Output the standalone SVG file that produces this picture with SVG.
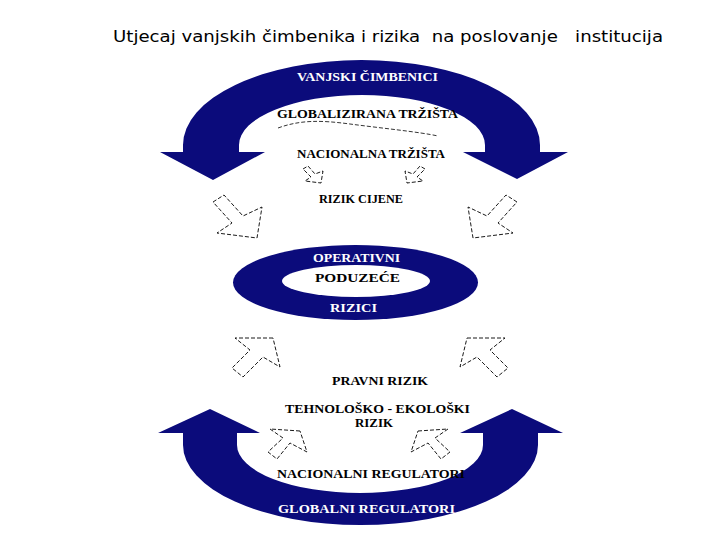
<svg xmlns="http://www.w3.org/2000/svg" width="720" height="540" viewBox="0 0 720 540">
<style>
.band{fill:#0b0b7b;}
.lbl{font-family:"Liberation Serif","Times New Roman",serif;font-weight:bold;font-size:13px;text-anchor:middle;}
.w{fill:#ffffff;}
.k{fill:#000000;}
.hollow{fill:#ffffff;stroke:#000000;stroke-width:0.9;stroke-dasharray:4 2;}
.title{font-family:"DejaVu Sans","Verdana",sans-serif;font-size:16px;fill:#000000;}
</style>
<rect width="720" height="540" fill="#ffffff"/>
<text class="title" x="113" y="42" xml:space="preserve" textLength="550" lengthAdjust="spacingAndGlyphs">Utjecaj vanjskih čimbenika i rizika  na poslovanje   institucija</text>

<g id="top-arc">
<path class="band" d="M183 152 L183 145 A178.5 85 0 0 1 540 145 L540 152 L568 152 L517 179 L463 152 L485 152 L485 145 A123 50 0 0 0 239 145 L239 152 L265 152 L213 180 L160 152 Z"/>
<text class="lbl w" x="367.5" y="81" textLength="141" lengthAdjust="spacingAndGlyphs">VANJSKI ČIMBENICI</text>
</g>
<g id="globalizirana">
<text class="lbl k" x="367.5" y="118" textLength="181" lengthAdjust="spacingAndGlyphs">GLOBALIZIRANA TRŽIŠTA</text>
<path d="M278 128 C300 120 320 120 350 124 S420 132 438 136" fill="none" stroke="#000" stroke-width="0.8" stroke-dasharray="4 2"/>
</g>
<g id="nacionalna">
<text class="lbl k" x="371" y="158" textLength="148" lengthAdjust="spacingAndGlyphs">NACIONALNA TRŽIŠTA</text>
</g>
<g id="rizik-cijene">
<text class="lbl k" x="361" y="203" textLength="84" lengthAdjust="spacingAndGlyphs">RIZIK CIJENE</text>
</g>

<g id="center-ring">
<ellipse class="band" cx="355.5" cy="282.5" rx="122.5" ry="37.5"/>
<ellipse cx="356" cy="281" rx="74" ry="16" fill="#ffffff"/>
<text class="lbl w" x="356.5" y="262" textLength="87" lengthAdjust="spacingAndGlyphs">OPERATIVNI</text>
<text class="lbl k" x="357.5" y="282" font-size="14" textLength="85" lengthAdjust="spacingAndGlyphs">PODUZEĆE</text>
<text class="lbl w" x="353.5" y="312" textLength="47" lengthAdjust="spacingAndGlyphs">RIZICI</text>
</g>

<g id="pravni-rizik">
<text class="lbl k" x="380" y="385" textLength="96" lengthAdjust="spacingAndGlyphs">PRAVNI RIZIK</text>
</g>
<g id="tehnolosko">
<text class="lbl k" x="377.5" y="413" textLength="185" lengthAdjust="spacingAndGlyphs">TEHNOLOŠKO - EKOLOŠKI</text>
<text class="lbl k" x="374" y="427" textLength="38" lengthAdjust="spacingAndGlyphs">RIZIK</text>
</g>

<g id="bottom-arc">
<path class="band" d="M183 433 L183 445 A177.5 80 0 0 0 538 445 L538 433 L563 433 L512 409 L460 433 L483 433 L483 445 A123 48 0 0 1 237 445 L237 433 L260 433 L210 409 L158 433 Z"/>
<text class="lbl w" x="366.5" y="513" textLength="177" lengthAdjust="spacingAndGlyphs">GLOBALNI REGULATORI</text>
</g>
<g id="nacionalni-regulatori">
<text class="lbl k" x="371" y="478" textLength="188" lengthAdjust="spacingAndGlyphs">NACIONALNI REGULATORI</text>
</g>

<g id="connectors">
<polygon class="hollow" points="303,169 308,166 315,174 323,171 321,183 305,181 311,177"/>
<polygon class="hollow" points="425,169 420,166 413,174 405,171 407,183 423,181 417,177"/>
<polygon class="hollow" points="213,202 224,195 243,216 262,207 257,238 217,233 232,223"/>
<polygon class="hollow" points="517,202 506,195 487,216 468,207 473,238 513,233 498,223"/>
<polygon class="hollow" points="273,338 235,338 250,350 232,368 243,377 263,357 280,367"/>
<polygon class="hollow" points="467,338 505,338 490,350 508,368 497,377 477,357 460,367"/>
<polygon class="hollow" points="300,431 270,429 283,438 268,452 277,459 290,443 307,452"/>
<polygon class="hollow" points="418,431 448,429 435,438 450,452 441,459 428,443 411,452"/>
</g>
</svg>
